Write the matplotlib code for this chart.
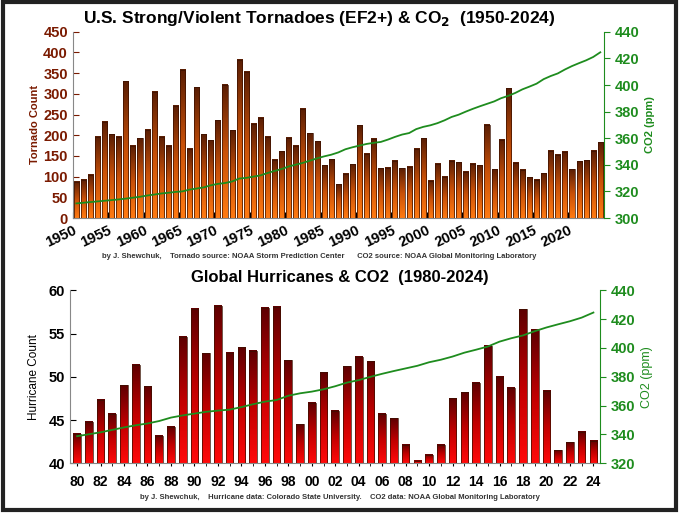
import numpy as np
import matplotlib
matplotlib.use("Agg")
import matplotlib.pyplot as plt
from matplotlib.colors import LinearSegmentedColormap
from matplotlib.patches import Rectangle

plt.rcParams['font.family'] = ['Liberation Sans', 'DejaVu Sans']

# --- tornado data (EF2+), 1950-2024
tor_years = list(range(1950, 2025))
tor_counts = [88, 93, 105, 197, 233, 202, 196, 330, 175, 193,
              213, 305, 197, 175, 271, 358, 168, 316, 202, 188,
              236, 322, 212, 383, 354, 228, 242, 197, 141, 161,
              194, 175, 264, 205, 185, 128, 142, 82, 107, 130,
              224, 155, 192, 120, 121, 138, 120, 124, 168, 193,
              90, 131, 100, 139, 135, 112, 131, 128, 225, 118,
              189, 313, 134, 116, 98, 92, 108, 162, 153, 160,
              118, 137, 140, 162, 183]

# --- annual mean CO2 (ppm), 1950-2024
co2_ppm = [311.0, 311.5, 312.0, 312.5, 313.0, 313.5, 314.0, 314.6, 315.3,
           315.98, 316.91, 317.64, 318.45, 318.99, 319.62, 320.04, 321.37,
           322.18, 323.05, 324.62, 325.68, 326.32, 327.46, 329.68, 330.19,
           331.13, 332.03, 333.84, 335.41, 336.84, 338.76, 340.12, 341.48,
           343.15, 344.87, 346.35, 347.61, 349.31, 351.69, 353.20, 354.45,
           355.70, 356.54, 357.21, 358.96, 360.97, 362.74, 363.88, 366.84,
           368.54, 369.71, 371.32, 373.45, 375.98, 377.70, 379.98, 382.09,
           384.02, 385.83, 387.64, 390.10, 391.85, 394.06, 396.74, 398.81,
           401.01, 404.41, 406.76, 408.72, 411.66, 414.24, 416.45, 418.56,
           421.08, 424.6]

# --- global hurricanes, 1980-2024
hur_years = list(range(1980, 2025))
hur_counts = [43.4, 44.8, 47.3, 45.7, 49.0, 51.4, 48.9, 43.2, 44.2, 54.6,
              57.9, 52.7, 58.2, 52.8, 53.4, 53.0, 58.0, 58.1, 51.9, 44.5,
              47.0, 50.5, 46.1, 51.2, 52.3, 51.8, 45.7, 45.2, 42.1, 40.3,
              41.0, 42.1, 47.5, 48.2, 49.3, 53.6, 50.0, 48.7, 57.8, 55.4,
              48.4, 41.5, 42.4, 43.6, 42.6]
hur_co2 = co2_ppm[30:]

green = '#1e8c1e'
tor_cmap = LinearSegmentedColormap.from_list('tor', ['#ff7a12', '#c85008', '#5a1e04'])
hur_cmap = LinearSegmentedColormap.from_list('hur', ['#ff0a0a', '#c00000', '#5e0000'])
grad = np.linspace(0, 1, 64).reshape(-1, 1)


def gradient_bars(ax, xs, hs, base, cmap, width=0.62):
    for x, h in zip(xs, hs):
        ax.imshow(grad, cmap=cmap, origin='lower', aspect='auto',
                  extent=(x - width / 2, x + width / 2, base, h), zorder=2)
        ax.add_patch(Rectangle((x - width / 2, base), width, h - base, fill=False,
                               edgecolor='#3a1000', linewidth=0.5, zorder=3))


fig = plt.figure(figsize=(6.8, 5.13), dpi=100)
fig.patch.set_facecolor('white')
fig.add_artist(Rectangle((0.004, 0.006), 0.99, 0.99, transform=fig.transFigure,
                         fill=False, edgecolor='#222222', linewidth=3))

# ---------- top panel (bars sit between year ticks)
ax1 = fig.add_axes([0.107, 0.575, 0.781, 0.363])
gradient_bars(ax1, [y + 0.5 for y in tor_years], tor_counts, 0, tor_cmap, width=0.72)
ax1.set_xlim(1950, 2025)
ax1.set_ylim(0, 450)
ax1.set_yticks(range(0, 451, 50))
ax1.set_xticks(range(1950, 2021, 5))
ax1.set_xticklabels([str(y) for y in range(1950, 2021, 5)], rotation=25,
                    fontsize=10.5, fontweight='bold', ha='right', rotation_mode='anchor')
ax1.tick_params(axis='y', colors='#7a1a00', labelsize=10.5, direction='in', length=4)
for lab in ax1.get_yticklabels():
    lab.set_fontweight('bold')
ax1.tick_params(axis='x', direction='in', length=4, pad=4)
ax1.set_ylabel('Tornado Count', color='#7a1a00', fontsize=8, fontweight='bold', labelpad=2)
for s in ['top', 'right']:
    ax1.spines[s].set_visible(False)
ax1.spines['left'].set_color('#888888')
ax1.spines['bottom'].set_color('#888888')

ax1b = ax1.twinx()
ax1b.plot([y + 0.5 for y in tor_years], co2_ppm, color=green, linewidth=1.3)
ax1b.set_ylim(300, 440)
ax1b.set_yticks(range(300, 441, 20))
ax1b.tick_params(axis='y', colors=green, labelsize=10.5, direction='out', length=4)
for lab in ax1b.get_yticklabels():
    lab.set_fontweight('bold')
ax1b.set_ylabel('CO2 (ppm)', color=green, fontsize=8, fontweight='bold')
for s in ['top', 'left', 'bottom']:
    ax1b.spines[s].set_visible(False)
ax1b.spines['right'].set_color(green)
fig.text(0.47, 0.955, r'U.S. Strong/Violent Tornadoes (EF2+) & CO$_\mathbf{2}$  (1950-2024)',
         ha='center', fontsize=12.5, fontweight='bold')
fig.text(0.47, 0.497, 'by J. Shewchuk,    Tornado source: NOAA Storm Prediction Center      '
         'CO2 source: NOAA Global Monitoring Laboratory', ha='center', fontsize=5.5,
         fontweight='bold', color='#333333')

# ---------- bottom panel
ax2 = fig.add_axes([0.103, 0.097, 0.78, 0.337])
gradient_bars(ax2, hur_years, hur_counts, 40, hur_cmap, width=0.65)
ax2.set_xlim(1979.4, 2024.6)
ax2.set_ylim(40, 60)
ax2.set_yticks(range(40, 61, 5))
ax2.set_xticks(hur_years, minor=True)
ax2.set_xticks(range(1980, 2025, 2))
ax2.set_xticklabels(['%02d' % (y % 100) for y in range(1980, 2025, 2)],
                    fontsize=10, fontweight='bold')
ax2.tick_params(axis='y', labelsize=10.5, direction='in', length=4)
for lab in ax2.get_yticklabels():
    lab.set_fontweight('bold')
ax2.tick_params(axis='x', which='both', direction='inout', length=5, pad=6)
ax2.set_ylabel('Hurricane Count', fontsize=8.5, labelpad=6)
for s in ['top', 'right']:
    ax2.spines[s].set_visible(False)
ax2.spines['left'].set_color('#888888')
ax2.spines['bottom'].set_color('#888888')

ax2b = ax2.twinx()
ax2b.plot(hur_years, hur_co2, color=green, linewidth=1.3)
ax2b.set_ylim(320, 440)
ax2b.set_yticks(range(320, 441, 20))
ax2b.tick_params(axis='y', colors=green, labelsize=10.5, direction='out', length=4)
for lab in ax2b.get_yticklabels():
    lab.set_fontweight('bold')
ax2b.set_ylabel('CO2 (ppm)', color=green, fontsize=9)
for s in ['top', 'left', 'bottom']:
    ax2b.spines[s].set_visible(False)
ax2b.spines['right'].set_color(green)
fig.text(0.5, 0.45, 'Global Hurricanes & CO2  (1980-2024)', ha='center',
         fontsize=12, fontweight='bold')
fig.text(0.5, 0.028, 'by J. Shewchuk,    Hurricane data: Colorado State University.    '
         'CO2 data: NOAA Global Monitoring Laboratory', ha='center', fontsize=5.5,
         fontweight='bold', color='#333333')

fig.savefig('out.png', dpi=100)
